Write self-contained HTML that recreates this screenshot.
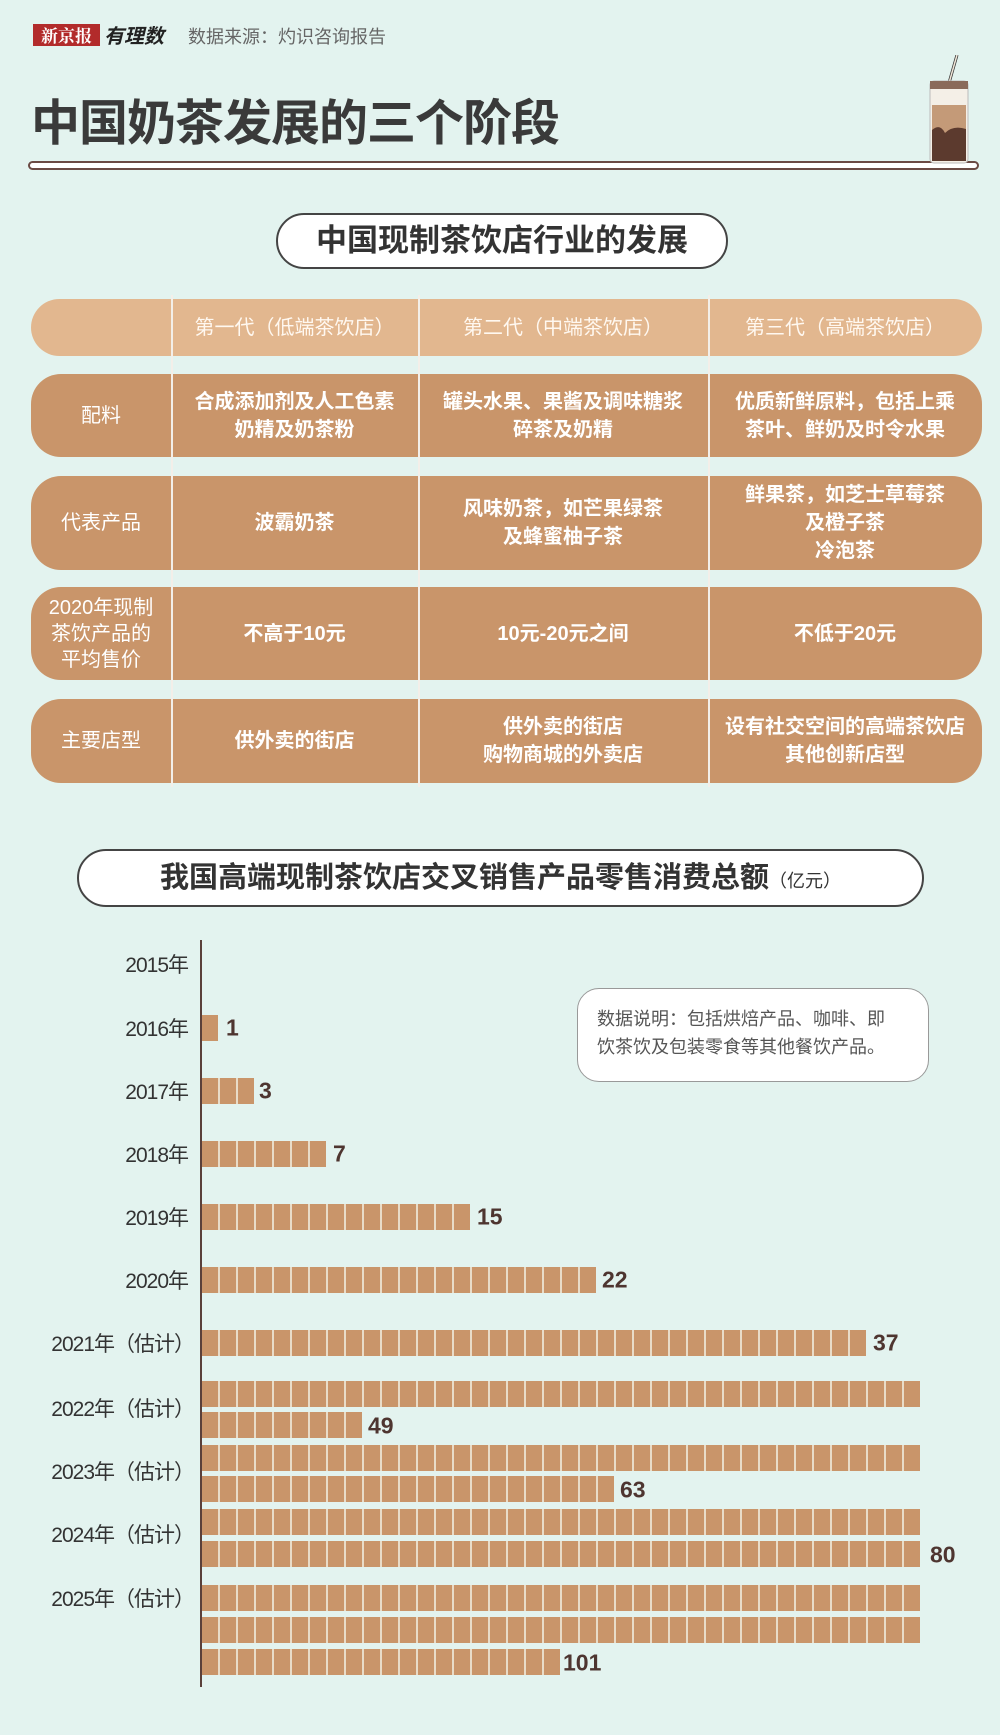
<!DOCTYPE html>
<html><head><meta charset="utf-8"><style>
*{margin:0;padding:0;box-sizing:border-box}
body{width:1000px;height:1735px;background:#e3f3ef;position:relative;overflow:hidden;font-family:"Liberation Sans","Noto Sans CJK SC",sans-serif}
.a{position:absolute}
.row{position:absolute;left:31px;width:951px;border-radius:30px;background:#c9956a;color:#fff;font-weight:bold;font-size:20px}
.c{position:absolute;top:0;height:100%;display:flex;align-items:center;justify-content:center;text-align:center;line-height:28px}
.c0{left:0;width:140px;font-weight:normal}
.c1{left:140px;width:247px}
.c2{left:387px;width:290px}
.c3{left:677px;width:274px}
.vl{position:absolute;top:295px;height:492px;width:1.5px;background:#f3efe9}
.lbl{position:absolute;right:812px;font-size:21px;color:#333;white-space:nowrap;transform:translateY(-50%);letter-spacing:-1px}
.bar{position:absolute;left:202px;height:26px;background:repeating-linear-gradient(90deg,#c9956a 0 16px,#e9dcc8 16px 18px)}
.v{position:absolute;font-size:23px;font-weight:bold;color:#4e3530;transform:translateY(-50%)}
</style></head><body>
<div class="a" style="left:33px;top:24px;width:67px;height:22px;background:#b22b2b;color:#fff;font-family:'Noto Serif CJK SC',serif;font-weight:bold;font-size:17px;line-height:22px;text-align:center">新京报</div>
<div class="a" style="left:104px;top:20px;font-size:20px;font-style:italic;color:#222;font-weight:bold">有理数</div>
<div class="a" style="left:188px;top:23px;font-size:18px;color:#666">数据来源：灼识咨询报告</div>
<div class="a" style="left:31px;top:84px;font-size:49px;font-weight:bold;color:#3a3a3a;letter-spacing:-1px">中国奶茶发展的三个阶段</div>
<div class="a" style="left:28px;top:161px;width:951px;height:9px;background:#fff;border:2px solid #6a4a44;border-radius:5px"></div>
<svg class="a" style="left:925px;top:55px" width="50" height="115">
<line x1="32" y1="0" x2="24" y2="28" stroke="#333" stroke-width="3"/><line x1="32" y1="0" x2="24" y2="28" stroke="#f0e6d8" stroke-width="1.5"/>
<rect x="5" y="26" width="38" height="82" rx="4" fill="#f4efe7" stroke="#bbb"/>
<rect x="7" y="50" width="34" height="56" fill="#c49a78"/>
<path d="M7 75 Q15 68 20 78 Q28 70 41 74 L41 106 L7 106Z" fill="#5c3a2e"/>
<rect x="5" y="26" width="38" height="8" fill="#8a6a5a"/>
</svg>
<div class="a" style="left:276px;top:213px;width:452px;height:56px;border:2px solid #444;border-radius:28px;background:#fff;font-size:31px;font-weight:bold;color:#333;text-align:center;line-height:52px">中国现制茶饮店行业的发展</div>
<div class="row" style="top:299px;height:57px;background:#e2b78f;font-weight:normal;color:#fff8f0"><div class="c c1">第一代（低端茶饮店）</div><div class="c c2">第二代（中端茶饮店）</div><div class="c c3">第三代（高端茶饮店）</div></div>
<div class="row" style="top:374px;height:83px"><div class="c c0">配料</div><div class="c c1">合成添加剂及人工色素<br>奶精及奶茶粉</div><div class="c c2">罐头水果、果酱及调味糖浆<br>碎茶及奶精</div><div class="c c3">优质新鲜原料，包括上乘<br>茶叶、鲜奶及时令水果</div></div>
<div class="row" style="top:476px;height:94px"><div class="c c0">代表产品</div><div class="c c1">波霸奶茶</div><div class="c c2">风味奶茶，如芒果绿茶<br>及蜂蜜柚子茶</div><div class="c c3">鲜果茶，如芝士草莓茶<br>及橙子茶<br>冷泡茶</div></div>
<div class="row" style="top:587px;height:93px"><div class="c c0" style="line-height:26px">2020年现制<br>茶饮产品的<br>平均售价</div><div class="c c1">不高于10元</div><div class="c c2">10元-20元之间</div><div class="c c3">不低于20元</div></div>
<div class="row" style="top:699px;height:84px"><div class="c c0">主要店型</div><div class="c c1">供外卖的街店</div><div class="c c2">供外卖的街店<br>购物商城的外卖店</div><div class="c c3">设有社交空间的高端茶饮店<br>其他创新店型</div></div>
<div class="vl" style="left:171px"></div><div class="vl" style="left:418px"></div><div class="vl" style="left:708px"></div>
<div class="a" style="left:77px;top:849px;width:847px;height:58px;border:2px solid #444;border-radius:29px;background:#fff;text-align:center;line-height:54px;color:#333;font-weight:bold;font-size:29px">我国高端现制茶饮店交叉销售产品零售消费总额<span style="font-size:18px;font-weight:normal">（亿元）</span></div>
<div class="a" style="left:200px;top:940px;width:1.5px;height:747px;background:#5a403a"></div>
<div class="a" style="left:577px;top:988px;width:352px;height:94px;border:1.5px solid #999;border-radius:22px;background:#fff;font-size:18px;color:#555;line-height:28px;padding:16px 0 0 19px">数据说明：包括烘焙产品、咖啡、即<br>饮茶饮及包装零食等其他餐饮产品。</div>
<div class="lbl" style="top:964px">2015年</div>
<div class="lbl" style="top:1028px">2016年</div><div class="bar" style="top:1015px;width:16px"></div><div class="v" style="left:226px;top:1028px">1</div>
<div class="lbl" style="top:1091px">2017年</div><div class="bar" style="top:1078px;width:52px"></div><div class="v" style="left:259px;top:1091px">3</div>
<div class="lbl" style="top:1154px">2018年</div><div class="bar" style="top:1141px;width:124px"></div><div class="v" style="left:333px;top:1154px">7</div>
<div class="lbl" style="top:1217px">2019年</div><div class="bar" style="top:1204px;width:268px"></div><div class="v" style="left:477px;top:1217px">15</div>
<div class="lbl" style="top:1280px">2020年</div><div class="bar" style="top:1267px;width:394px"></div><div class="v" style="left:602px;top:1280px">22</div>
<div class="lbl" style="top:1343px;right:806px">2021年（估计）</div><div class="bar" style="top:1330px;width:664px"></div><div class="v" style="left:873px;top:1343px">37</div>
<div class="lbl" style="top:1408px;right:806px">2022年（估计）</div><div class="bar" style="top:1381px;width:718px"></div><div class="bar" style="top:1412px;width:160px"></div><div class="v" style="left:368px;top:1426px">49</div>
<div class="lbl" style="top:1471px;right:806px">2023年（估计）</div><div class="bar" style="top:1445px;width:718px"></div><div class="bar" style="top:1476px;width:412px"></div><div class="v" style="left:620px;top:1490px">63</div>
<div class="lbl" style="top:1534px;right:806px">2024年（估计）</div><div class="bar" style="top:1509px;width:718px"></div><div class="bar" style="top:1541px;width:718px"></div><div class="v" style="left:930px;top:1555px">80</div>
<div class="lbl" style="top:1598px;right:806px">2025年（估计）</div><div class="bar" style="top:1585px;width:718px"></div><div class="bar" style="top:1617px;width:718px"></div><div class="bar" style="top:1649px;width:358px"></div><div class="v" style="left:563px;top:1663px">101</div>
</body></html>
